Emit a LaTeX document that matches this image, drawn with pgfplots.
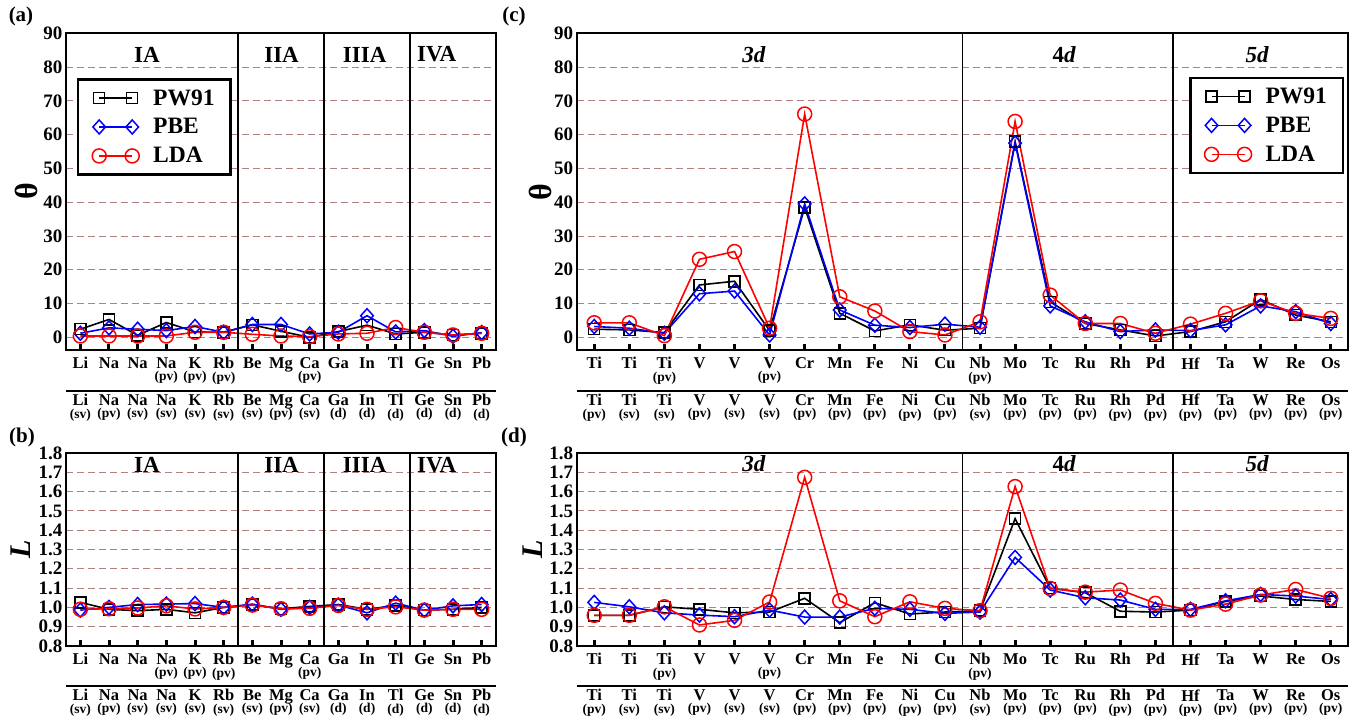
\documentclass[border=0pt]{standalone}
\usepackage{pgfplots}
\pgfplotsset{compat=1.18}
\usepackage{fontspec}
\setmainfont{Liberation Serif}
\definecolor{gridc}{RGB}{178,128,128}
\newcommand{\sub}[1]{\\[-1pt]{\fontsize{13.5}{13.5}\selectfont(#1)}}
\tikzset{ttl/.style={font=\fontsize{23}{23}\selectfont\bfseries}}
\pgfplotsset{
  base/.style={
    scale only axis,
    anchor=south west,
    clip=false,
    axis line style={line width=1.8pt},
    tick align=inside,
    xtick pos=bottom,
    ytick pos=left,
    major tick length=6pt,
    xtick style={line width=3pt, black},
    ytick style={draw=none},
    ymajorgrids,
    grid style={gridc, line width=0.9pt, dash pattern=on 7pt off 4pt},
    /pgf/number format/assume math mode=true,
    yticklabel style={font=\fontsize{19}{19}\selectfont\bfseries},
    xticklabel style={font=\fontsize{16.5}{13.5}\selectfont\bfseries, align=center, yshift=-4pt},
    legend image code/.code={\draw[#1] plot coordinates {(0pt,0pt) (33pt,0pt)};},
    legend cell align=left,
    legend style={font=\fontsize{23.5}{23.5}\selectfont\bfseries, draw=black, line width=2.4pt,
      inner xsep=14pt, inner ysep=8pt, row sep=8pt,
      /tikz/every odd column/.append style={column sep=12pt}},
  },
  sec/.style={
    scale only axis, anchor=south west, height=1pt, ymin=0, ymax=1,
    axis y line=none, axis x line*=bottom,
    x axis line style={line width=2pt, -},
    xtick style={draw=none},
    xticklabel style={font=\fontsize{16.5}{13.5}\selectfont\bfseries, align=center, yshift=0pt},
  },
  pw/.style={black, line width=1.6pt, mark=square, mark size=5.5pt, mark options={solid, line width=1.5pt}},
  pbe/.style={blue, line width=1.6pt, mark=diamond, mark size=7pt, mark options={solid, line width=1.5pt, xscale=1.2}},
  lda/.style={red, line width=1.6pt, mark=o, mark size=7pt, mark options={solid, line width=1.5pt}},
}
\begin{document}
\begin{tikzpicture}[x=1pt,y=1pt]
\path[use as bounding box] (0,0) rectangle (1358,724);
\node[font=\fontsize{21}{21}\selectfont\bfseries] at (21,708) {(a)};
\node[font=\fontsize{21}{21}\selectfont\bfseries] at (514,708) {(c)};
\node[font=\fontsize{21}{21}\selectfont\bfseries] at (22,287) {(b)};
\node[font=\fontsize{21}{21}\selectfont\bfseries] at (514,287) {(d)};

% ---------------- (a)
\begin{axis}[base, at={(66pt,374pt)}, width=430pt, height=316.7pt,
  xmin=-0.5, xmax=14.5, ymin=-3.75, ymax=90, ytick={0,10,...,90},
  xtick={0,...,14},
  xticklabels={Li,Na,Na,{Na\sub{pv}},{K\sub{pv}},{Rb\sub{pv}},Be,Mg,{Ca\sub{pv}},Ga,In,Tl,Ge,Sn,Pb},
  ylabel={θ},
  every axis y label/.style={at={(axis description cs:-0.093,0.5)}, rotate=90, anchor=center, font=\fontsize{32}{32}\selectfont\bfseries},
  legend style={at={(0.0256,0.858)}, anchor=north west}]
\addplot[pw] coordinates {(0,2.4)(1,5.3)(2,0.6)(3,4.4)(4,1.6)(5,1.5)(6,3.7)(7,1.8)(8,0.0)(9,1.7)(10,3.6)(11,1.0)(12,1.5)(13,0.7)(14,1.2)};
\addplot[pbe] coordinates {(0,1.2)(1,2.8)(2,2.4)(3,2.0)(4,3.2)(5,1.5)(6,3.8)(7,3.8)(8,1.0)(9,1.5)(10,6.4)(11,1.6)(12,2.0)(13,0.3)(14,1.4)};
\addplot[lda] coordinates {(0,0.4)(1,0.4)(2,0.4)(3,0.4)(4,1.5)(5,1.5)(6,0.9)(7,0.4)(8,0.2)(9,1.0)(10,1.2)(11,2.9)(12,1.5)(13,0.7)(14,1.2)};
\legend{PW91,PBE,LDA}
\draw[line width=1.5pt] (axis cs:5.5,-3.75) -- (axis cs:5.5,90);
\draw[line width=1.5pt] (axis cs:8.5,-3.75) -- (axis cs:8.5,90);
\draw[line width=1.5pt] (axis cs:11.5,-3.75) -- (axis cs:11.5,90);
\node[ttl] at (axis cs:2.32,83.7) {IA};
\node[ttl] at (axis cs:7.02,83.7) {IIA};
\node[ttl] at (axis cs:9.92,83.7) {IIIA};
\node[ttl] at (axis cs:12.43,83.7) {IVA};
\end{axis}
\begin{axis}[sec, at={(66pt,333.3pt)}, width=430pt, xmin=-0.5, xmax=14.5,
  xtick={0,...,14},
  xticklabels={{Li\sub{sv}},{Na\sub{pv}},{Na\sub{sv}},{Na\sub{sv}},{K\sub{sv}},{Rb\sub{sv}},{Be\sub{sv}},{Mg\sub{pv}},{Ca\sub{sv}},{Ga\sub{d}},{In\sub{d}},{Tl\sub{d}},{Ge\sub{d}},{Sn\sub{d}},{Pb\sub{d}}}]
\addplot[draw=none] coordinates {(0,0.5)};
\end{axis}

% ---------------- (b)
\begin{axis}[base, at={(66pt,78pt)}, width=430pt, height=193pt,
  xmin=-0.5, xmax=14.5, ymin=0.8, ymax=1.8, ytick={0.8,0.9,1.0,1.1,1.2,1.3,1.4,1.5,1.6,1.7,1.8},
  yticklabel style={/pgf/number format/.cd, fixed, fixed zerofill, precision=1},
  xtick={0,...,14},
  xticklabels={Li,Na,Na,{Na\sub{pv}},{K\sub{pv}},{Rb\sub{pv}},Be,Mg,{Ca\sub{pv}},Ga,In,Tl,Ge,Sn,Pb},
  ylabel={\itshape L},
  every axis y label/.style={at={(axis description cs:-0.105,0.5)}, rotate=90, anchor=center, font=\fontsize{30}{30}\selectfont\bfseries}]
\addplot[pw] coordinates {(0,1.026)(1,0.990)(2,0.983)(3,0.990)(4,0.972)(5,1.000)(6,1.014)(7,0.993)(8,1.005)(9,1.015)(10,0.990)(11,1.010)(12,0.986)(13,0.990)(14,1.000)};
\addplot[pbe] coordinates {(0,0.986)(1,1.000)(2,1.015)(3,1.017)(4,1.020)(5,1.000)(6,1.017)(7,0.990)(8,1.000)(9,1.012)(10,0.972)(11,1.022)(12,0.986)(13,1.008)(14,1.015)};
\addplot[lda] coordinates {(0,0.990)(1,0.993)(2,0.997)(3,1.008)(4,0.992)(5,1.000)(6,1.012)(7,0.993)(8,0.995)(9,1.010)(10,0.990)(11,1.003)(12,0.986)(13,0.990)(14,0.990)};
\draw[line width=1.5pt] (axis cs:5.5,0.8) -- (axis cs:5.5,1.8);
\draw[line width=1.5pt] (axis cs:8.5,0.8) -- (axis cs:8.5,1.8);
\draw[line width=1.5pt] (axis cs:11.5,0.8) -- (axis cs:11.5,1.8);
\node[ttl] at (axis cs:2.32,1.738) {IA};
\node[ttl] at (axis cs:7.02,1.738) {IIA};
\node[ttl] at (axis cs:9.92,1.738) {IIIA};
\node[ttl] at (axis cs:12.43,1.738) {IVA};
\end{axis}
\begin{axis}[sec, at={(66pt,38pt)}, width=430pt, xmin=-0.5, xmax=14.5,
  xtick={0,...,14},
  xticklabels={{Li\sub{sv}},{Na\sub{pv}},{Na\sub{sv}},{Na\sub{sv}},{K\sub{sv}},{Rb\sub{sv}},{Be\sub{sv}},{Mg\sub{pv}},{Ca\sub{sv}},{Ga\sub{d}},{In\sub{d}},{Tl\sub{d}},{Ge\sub{d}},{Sn\sub{d}},{Pb\sub{d}}}]
\addplot[draw=none] coordinates {(0,0.5)};
\end{axis}

% ---------------- (c)
\begin{axis}[base, at={(576.7pt,374pt)}, width=771.6pt, height=316.7pt,
  xmin=-0.5, xmax=21.5, ymin=-3.75, ymax=90, ytick={0,10,...,90},
  xtick={0,...,21},
  xticklabels={Ti,Ti,{Ti\sub{pv}},V,V,{V\sub{pv}},Cr,Mn,Fe,Ni,Cu,{Nb\sub{pv}},Mo,Tc,Ru,Rh,Pd,Hf,Ta,W,Re,Os},
  ylabel={θ},
  every axis y label/.style={at={(axis description cs:-0.0476,0.5)}, rotate=90, anchor=center, font=\fontsize{32}{32}\selectfont\bfseries},
  legend style={at={(0.794,0.863)}, anchor=north west}]
\addplot[pw] coordinates {(0,2.4)(1,2.2)(2,1.4)(3,15.5)(4,16.6)(5,2.0)(6,38.5)(7,7.1)(8,1.9)(9,3.7)(10,2.1)(11,2.7)(12,57.9)(13,10.5)(14,4.1)(15,2.2)(16,0.4)(17,1.7)(18,4.6)(19,11.2)(20,6.6)(21,4.6)};
\addplot[pbe] coordinates {(0,3.2)(1,2.7)(2,1.2)(3,12.9)(4,13.7)(5,0.7)(6,39.5)(7,8.1)(8,3.6)(9,2.9)(10,3.9)(11,3.0)(12,57.5)(13,9.3)(14,4.6)(15,1.7)(16,2.2)(17,2.0)(18,3.7)(19,9.3)(20,7.6)(21,4.1)};
\addplot[lda] coordinates {(0,4.3)(1,4.3)(2,0.5)(3,23.1)(4,25.4)(5,2.7)(6,66.1)(7,12.0)(8,7.8)(9,1.7)(10,0.7)(11,4.6)(12,63.9)(13,12.5)(14,4.1)(15,4.1)(16,1.2)(17,3.9)(18,7.1)(19,10.8)(20,7.1)(21,5.6)};
\legend{PW91,PBE,LDA}
\draw[line width=1.5pt] (axis cs:10.5,-3.75) -- (axis cs:10.5,90);
\draw[line width=1.5pt] (axis cs:16.5,-3.75) -- (axis cs:16.5,90);
\node[ttl] at (axis cs:4.55,83.7) {\itshape 3d};
\node[ttl] at (axis cs:13.4,83.7) {4\itshape d};
\node[ttl] at (axis cs:18.9,83.7) {\itshape 5d};
\end{axis}
\begin{axis}[sec, at={(576.7pt,333.3pt)}, width=771.6pt, xmin=-0.5, xmax=21.5,
  xtick={0,...,21},
  xticklabels={{Ti\sub{pv}},{Ti\sub{sv}},{Ti\sub{sv}},{V\sub{pv}},{V\sub{sv}},{V\sub{sv}},{Cr\sub{pv}},{Mn\sub{pv}},{Fe\sub{pv}},{Ni\sub{pv}},{Cu\sub{pv}},{Nb\sub{sv}},{Mo\sub{pv}},{Tc\sub{pv}},{Ru\sub{pv}},{Rh\sub{pv}},{Pd\sub{pv}},{Hf\sub{pv}},{Ta\sub{pv}},{W\sub{pv}},{Re\sub{pv}},{Os\sub{pv}}}]
\addplot[draw=none] coordinates {(0,0.5)};
\end{axis}

% ---------------- (d)
\begin{axis}[base, at={(576.7pt,78pt)}, width=771.6pt, height=193pt,
  xmin=-0.5, xmax=21.5, ymin=0.8, ymax=1.8, ytick={0.8,0.9,1.0,1.1,1.2,1.3,1.4,1.5,1.6,1.7,1.8},
  yticklabel style={/pgf/number format/.cd, fixed, fixed zerofill, precision=1},
  xtick={0,...,21},
  xticklabels={Ti,Ti,{Ti\sub{pv}},V,V,{V\sub{pv}},Cr,Mn,Fe,Ni,Cu,{Nb\sub{pv}},Mo,Tc,Ru,Rh,Pd,Hf,Ta,W,Re,Os},
  ylabel={\itshape L},
  every axis y label/.style={at={(axis description cs:-0.0566,0.5)}, rotate=90, anchor=center, font=\fontsize{30}{30}\selectfont\bfseries}]
\addplot[pw] coordinates {(0,0.959)(1,0.959)(2,1.003)(3,0.990)(4,0.972)(5,0.976)(6,1.047)(7,0.921)(8,1.024)(9,0.966)(10,0.976)(11,0.983)(12,1.460)(13,1.100)(14,1.076)(15,0.980)(16,0.976)(17,0.986)(18,1.031)(19,1.059)(20,1.041)(21,1.031)};
\addplot[pbe] coordinates {(0,1.026)(1,1.003)(2,0.972)(3,0.960)(4,0.952)(5,0.986)(6,0.950)(7,0.950)(8,0.995)(9,0.990)(10,0.969)(11,0.976)(12,1.259)(13,1.090)(14,1.050)(15,1.038)(16,0.990)(17,0.990)(18,1.034)(19,1.067)(20,1.059)(21,1.041)};
\addplot[lda] coordinates {(0,0.959)(1,0.959)(2,1.003)(3,0.909)(4,0.933)(5,1.028)(6,1.674)(7,1.034)(8,0.952)(9,1.029)(10,0.995)(11,0.983)(12,1.626)(13,1.098)(14,1.079)(15,1.090)(16,1.021)(17,0.986)(18,1.017)(19,1.064)(20,1.093)(21,1.047)};
\draw[line width=1.5pt] (axis cs:10.5,0.8) -- (axis cs:10.5,1.8);
\draw[line width=1.5pt] (axis cs:16.5,0.8) -- (axis cs:16.5,1.8);
\node[ttl] at (axis cs:4.55,1.747) {\itshape 3d};
\node[ttl] at (axis cs:13.4,1.747) {4\itshape d};
\node[ttl] at (axis cs:18.9,1.747) {\itshape 5d};
\end{axis}
\begin{axis}[sec, at={(576.7pt,38pt)}, width=771.6pt, xmin=-0.5, xmax=21.5,
  xtick={0,...,21},
  xticklabels={{Ti\sub{pv}},{Ti\sub{sv}},{Ti\sub{sv}},{V\sub{pv}},{V\sub{sv}},{V\sub{sv}},{Cr\sub{pv}},{Mn\sub{pv}},{Fe\sub{pv}},{Ni\sub{pv}},{Cu\sub{pv}},{Nb\sub{sv}},{Mo\sub{pv}},{Tc\sub{pv}},{Ru\sub{pv}},{Rh\sub{pv}},{Pd\sub{pv}},{Hf\sub{pv}},{Ta\sub{pv}},{W\sub{pv}},{Re\sub{pv}},{Os\sub{pv}}}]
\addplot[draw=none] coordinates {(0,0.5)};
\end{axis}
\end{tikzpicture}
\end{document}
